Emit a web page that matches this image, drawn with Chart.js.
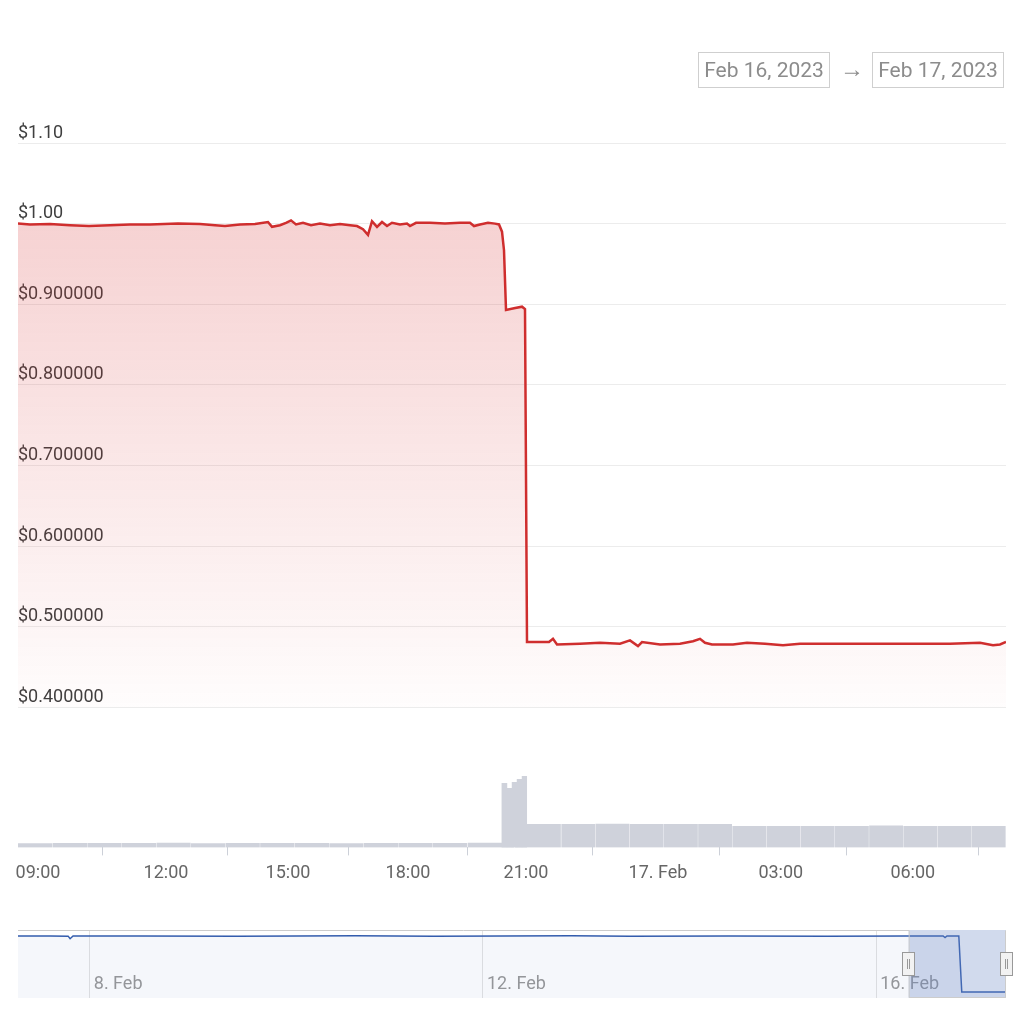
<!DOCTYPE html>
<html lang="en">
<head>
  <meta charset="UTF-8" />
  <meta name="viewport" content="width=device-width, initial-scale=1.0" />
  <title>Price Chart Feb 16 - Feb 17, 2023</title>
  <script src="https://cdn.jsdelivr.net/npm/chart.js"></script>
  <style>
    body { margin: 0; background: #fff; font-family: Roboto, Arial, sans-serif; }
    #wrap { position: relative; width: 1024px; height: 1024px; overflow: hidden; }
    .range { position: absolute; top: 52px; width: 130px; height: 34px; border: 1px solid #cfcfcf;
             color: #8c8c8c; font-size: 21px; line-height: 34px; text-align: center; }
    #arrow { position: absolute; left: 838px; top: 55px; width: 28px; text-align: center; color: #8c8c8c; font-size: 24px; }
    #mainChart { position: absolute; left: 0; top: 0; }
    #navChart { position: absolute; left: 0; top: 900px; }
  </style>
</head>
<body>
  <div id="wrap">
    <canvas id="mainChart" width="1024" height="900"></canvas>
    <canvas id="navChart" width="1024" height="124"></canvas>
    <div class="range" style="left: 698px;">Feb 16, 2023</div>
    <div id="arrow">→</div>
    <div class="range" style="left: 872px;">Feb 17, 2023</div>
  </div>

  <script>
    // x is the ordinal sample position (5-min samples), as on the source chart
    const tickSlots = [5, 37, 67.5, 97.5, 127, 160, 190.7, 223.7];
    const tickLabels = ['09:00', '12:00', '15:00', '18:00', '21:00', '17. Feb', '03:00', '06:00'];

    const priceSlots = [0, 3, 8, 13, 17.75, 23, 28, 33, 40, 45.5, 49.25, 51.75, 55.5, 59.25, 62.5, 63.5,
      65.5, 67, 68.25, 69.5, 71.25, 73.25, 75.5, 78, 80.5, 83, 84.75, 86.25, 87.5, 88.5, 89.75, 91,
      92.25, 93.5, 95.5, 97.25, 98, 99.5, 103, 106.75, 110.5, 113, 114, 115.5, 117.5, 119.25, 120.25,
      121, 121.5, 122, 124, 126, 126.75, 127.25, 132.75, 133.75, 134.75, 140.5, 145.5, 150.5, 153,
      155, 156, 160.5, 165.5, 168.75, 170.5, 171.75, 173.5, 178.75, 182.25, 186.75, 191.25, 195.5,
      203, 210.5, 218, 225.5, 233, 240.5, 243.75, 245.5, 247];
    const priceValues = [1.000, 0.999, 0.9995, 0.998, 0.997, 0.998, 0.999, 0.999, 1.000, 0.9995, 0.998,
      0.997, 0.999, 0.9995, 1.002, 0.996, 0.998, 1.001, 1.004, 0.999, 1.001, 0.998, 1.000, 0.998,
      0.9995, 0.998, 0.997, 0.993, 0.986, 1.003, 0.996, 1.002, 0.997, 1.001, 0.999, 1.000, 0.997,
      1.001, 1.001, 1.000, 1.001, 1.001, 0.997, 0.999, 1.001, 1.000, 0.999, 0.990, 0.967, 0.893,
      0.895, 0.897, 0.894, 0.481, 0.481, 0.485, 0.478, 0.479, 0.480, 0.479, 0.483, 0.476, 0.481,
      0.478, 0.479, 0.482, 0.485, 0.480, 0.478, 0.478, 0.480, 0.479, 0.477, 0.479, 0.479, 0.479,
      0.479, 0.479, 0.479, 0.480, 0.477, 0.478, 0.481];

    const volumeSlots = [4.3, 13.0, 21.6, 30.3, 38.9, 47.5, 56.2, 64.8, 73.5, 82.1, 90.7, 99.4, 108.0,
      116.7, 131.5, 140.1, 148.6, 157.2, 165.7, 174.3, 182.8, 191.4, 199.9, 208.5, 217.0, 225.6,
      234.2, 242.7];
    const volumeValues = [3.8, 4.0, 4.1, 4.0, 4.2, 3.9, 4.0, 4.1, 4.0, 3.9, 4.0, 4.1, 4.0, 4.2,
      23, 23, 23.2, 23, 23, 23, 21, 21, 21, 21, 21.5, 21, 21, 21];
    const spikeSlots = [121.6, 122.9, 124.1, 125.4, 126.6];
    const spikeValues = [64, 59, 65, 68, 71];

    // navigator: x in day of February 2023
    const navDays = [7.27, 7.6, 7.78, 7.8, 7.83, 8.5, 9.5, 10.7, 11.5, 12.9, 13.5, 14.5, 15.5, 16.3,
      16.68, 16.7, 16.72, 16.84, 16.87, 17.1, 17.32];
    const navValues = [1.0, 1.0, 0.999, 0.975, 1.0, 1.0, 0.999, 1.003, 0.999, 1.002, 0.999, 1.0, 0.999,
      1.0, 1.0, 0.985, 1.0, 1.0, 0.48, 0.48, 0.48];
    const navTickDays = [8, 12, 16];
    const navTickLabels = ['8. Feb', '12. Feb', '16. Feb'];
    const navSelection = [16.33, 17.32];

    Chart.defaults.font.family = 'Roboto, Arial, sans-serif';

    const volColor = '#cfd2db';

    function priceGradient(ctx) {
      const chart = ctx.chart;
      const s = chart.scales.yPrice;
      if (!chart.chartArea || !s) return 'rgba(214,48,49,0.15)';
      const g = chart.ctx.createLinearGradient(0, s.top, 0, s.bottom);
      g.addColorStop(0, 'rgba(214,48,49,0.25)');
      g.addColorStop(1, 'rgba(214,48,49,0.01)');
      return g;
    }

    new Chart(document.getElementById('mainChart'), {
      type: 'line',
      data: {
        datasets: [
          {
            type: 'line',
            data: priceSlots.map((x, i) => ({ x: x, y: priceValues[i] })),
            yAxisID: 'yPrice',
            borderColor: '#cf2e2e',
            borderWidth: 2.5,
            pointRadius: 0,
            tension: 0,
            fill: 'start',
            backgroundColor: priceGradient,
            order: 0
          },
          {
            type: 'bar',
            data: spikeSlots.map((x, i) => ({ x: x, y: spikeValues[i] })),
            yAxisID: 'yVol',
            stack: 'vol',
            backgroundColor: volColor,
            barThickness: 'flex',
            categoryPercentage: 1,
            barPercentage: 0.96,
            order: 1
          },
          {
            type: 'bar',
            data: volumeSlots.map((x, i) => ({ x: x, y: volumeValues[i] })),
            yAxisID: 'yVol',
            stack: 'vol',
            backgroundColor: volColor,
            barThickness: 'flex',
            categoryPercentage: 1,
            barPercentage: 0.97,
            order: 2
          }
        ]
      },
      options: {
        responsive: false,
        animation: false,
        layout: { padding: { top: 143, left: 18, right: 18, bottom: 9 } },
        plugins: { legend: { display: false }, tooltip: { enabled: false } },
        scales: {
          x: {
            type: 'linear',
            min: 0,
            max: 247,
            offset: false,
            afterBuildTicks: (scale) => { scale.ticks = tickSlots.map(v => ({ value: v })); },
            ticks: {
              autoSkip: false,
              maxRotation: 0,
              padding: 7,
              color: '#666',
              font: { size: 18 },
              callback: (v, i) => tickLabels[i]
            },
            grid: { drawOnChartArea: false, drawTicks: true, tickLength: 8, color: '#ccd0d8' },
            border: { display: false }
          },
          yVol: {
            type: 'linear',
            position: 'left',
            stack: 'main',
            stackWeight: 140,
            weight: 0,
            stacked: false,
            min: 0,
            max: 140,
            ticks: { display: false },
            grid: { display: false, drawTicks: false, tickLength: 0 },
            border: { display: false }
          },
          yPrice: {
            type: 'linear',
            position: 'left',
            stack: 'main',
            stackWeight: 564,
            weight: 1,
            min: 0.4,
            max: 1.1,
            ticks: {
              stepSize: 0.1,
              mirror: true,
              padding: 0,
              labelOffset: -10,
              color: '#3f3f3f',
              font: { size: 18 },
              callback: v => '$' + (v >= 1 ? v.toFixed(2) : v.toFixed(6))
            },
            grid: { color: '#ececec', drawTicks: false, tickLength: 0 },
            border: { display: false }
          }
        }
      }
    });

    const navigatorMask = {
      id: 'navigatorMask',
      afterDatasetsDraw(chart) {
        const { ctx, chartArea: a, scales: { x } } = chart;
        const x0 = x.getPixelForValue(navSelection[0]);
        const x1 = x.getPixelForValue(navSelection[1]);
        ctx.save();
        ctx.fillStyle = 'rgba(102,133,194,0.3)';
        ctx.fillRect(x0, a.top, x1 - x0, a.bottom - a.top);
        ctx.strokeStyle = '#cccccc';
        ctx.lineWidth = 1;
        ctx.beginPath();
        ctx.moveTo(a.left, a.top + 0.5);
        ctx.lineTo(x0 + 0.5, a.top + 0.5);
        ctx.lineTo(x0 + 0.5, a.bottom - 0.5);
        ctx.lineTo(x1 - 0.5, a.bottom - 0.5);
        ctx.lineTo(x1 - 0.5, a.top + 0.5);
        ctx.stroke();
        const hw = 13, hh = 24;
        const top = Math.round((a.top + a.bottom) / 2 - hh / 2);
        [x0, x1].forEach(hx => {
          const l = Math.round(hx - hw / 2);
          ctx.fillStyle = '#f2f2f2';
          ctx.fillRect(l, top, hw, hh);
          ctx.strokeStyle = '#999999';
          ctx.strokeRect(l + 0.5, top + 0.5, hw - 1, hh - 1);
          ctx.beginPath();
          ctx.moveTo(l + 5.5, top + 7); ctx.lineTo(l + 5.5, top + hh - 7);
          ctx.moveTo(l + 7.5, top + 7); ctx.lineTo(l + 7.5, top + hh - 7);
          ctx.stroke();
        });
        ctx.restore();
      }
    };

    new Chart(document.getElementById('navChart'), {
      type: 'line',
      data: {
        datasets: [{
          data: navDays.map((x, i) => ({ x: x, y: navValues[i] })),
          borderColor: '#335cad',
          borderWidth: 1.5,
          pointRadius: 0,
          tension: 0,
          fill: 'start',
          backgroundColor: 'rgba(51,92,173,0.05)'
        }]
      },
      options: {
        responsive: false,
        animation: false,
        layout: { padding: { top: 30, left: 18, right: 18, bottom: 26 } },
        plugins: { legend: { display: false }, tooltip: { enabled: false } },
        scales: {
          x: {
            type: 'linear',
            min: 7.27,
            max: 17.32,
            afterBuildTicks: (scale) => { scale.ticks = navTickDays.map(v => ({ value: v })); },
            ticks: {
              autoSkip: false,
              maxRotation: 0,
              align: 'start',
              padding: -24,
              labelOffset: 4,
              color: '#999',
              font: { size: 18 },
              callback: (v, i) => navTickLabels[i]
            },
            grid: { color: '#e3e3e3', drawTicks: false },
            border: { display: false }
          },
          y: { display: false, min: 0.424, max: 1.056 }
        }
      },
      plugins: [navigatorMask]
    });
  </script>
</body>
</html>
